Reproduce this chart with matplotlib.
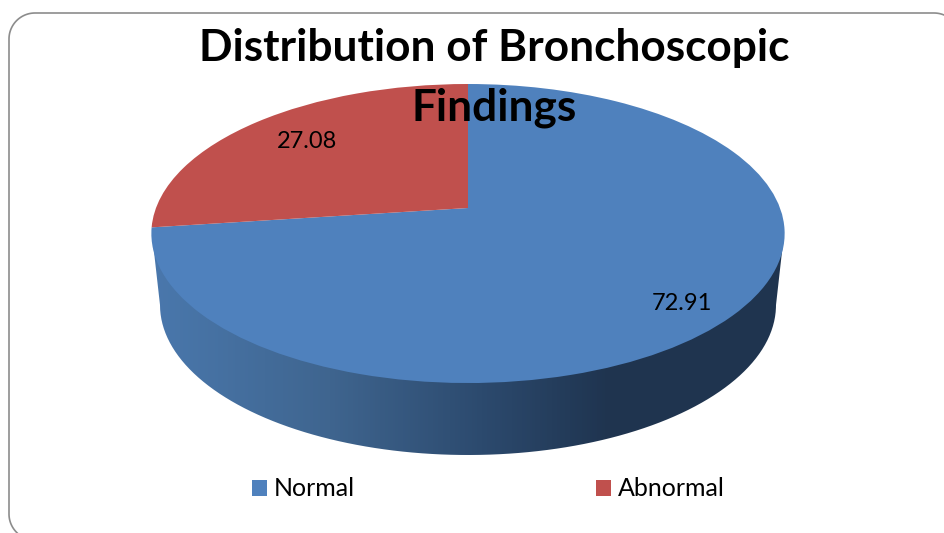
import numpy as np
import matplotlib
matplotlib.use('Agg')
from matplotlib import pyplot as plt
from matplotlib.colors import LinearSegmentedColormap
from matplotlib.patches import PathPatch
from matplotlib.path import Path
from matplotlib.transforms import Transform

categories = ['Normal', 'Abnormal']
values = [72.91, 27.08]
value_labels = ['72.91', '27.08']
colors = ['#4f81bd', '#c0504d']
side_stops = ['#4a78ad', '#3f658f', '#2c4a6e', '#1f344f', '#1f344f']

plt.rcParams['font.family'] = ['Lato', 'DejaVu Sans']


# the flat pie tilted away from the viewer, centre sits above the ellipse middle
class Tilt(Transform):
    input_dims = 2
    output_dims = 2

    def transform_non_affine(self, xy):
        xy = np.asarray(xy, dtype=float)
        w = 1 + 0.1706 * xy[:, 1]
        return np.column_stack([468 + 312 * xy[:, 0] / w,
                                (208 - 109.67 * xy[:, 1]) / w])


fig = plt.figure(figsize=(9.45, 5.33), dpi=100)
ax = fig.add_axes([0, 0, 1, 1])

wedges, _ = ax.pie(values, colors=colors, startangle=90, counterclock=False)
tilt = Tilt()
for w in wedges:
    w.set_transform(tilt + ax.transData)
    w.set_zorder(3)

# side wall with the dark gradient, clipped to the outline of the lower edge
t = np.linspace(np.pi, 0, 200)
side_x = np.concatenate([[152], 468 + 308 * np.cos(t), [784]])
side_y = np.concatenate([[234], 305 + 150 * np.sin(t), [234]])
side = PathPatch(Path(np.column_stack([side_x, side_y])), fc='none', ec='none', transform=ax.transData)
ax.add_patch(side)
cmap = LinearSegmentedColormap.from_list('side', list(zip([0, 0.28, 0.52, 0.72, 1], side_stops)))
img = ax.imshow(np.linspace(0, 1, 640).reshape(1, -1), cmap=cmap, aspect='auto',
                extent=[150, 790, 460, 230], zorder=2)
img.set_clip_path(side)

# rounded slide frame, runs off the picture at the bottom left and top right
r = 26
a1 = np.linspace(np.radians(133), np.radians(180), 20)
a2 = np.linspace(np.radians(180), np.radians(270), 30)
a3 = np.linspace(np.radians(270), np.radians(330), 20)
frame_x = np.concatenate([35 + r * np.cos(a1), 35 + r * np.cos(a2), 934 + r * np.cos(a3)])
frame_y = np.concatenate([514 + r * np.sin(a1), 39 + r * np.sin(a2), 39 + r * np.sin(a3)])
ax.plot(frame_x, frame_y, color='#8c8c8c', lw=1.2, zorder=1)

ax.text(494, 48, 'Distribution of Bronchoscopic', fontsize=31.8, fontweight='bold',
        ha='center', va='center', zorder=5)
ax.text(494, 108, 'Findings', fontsize=31.8, fontweight='bold', ha='center', va='center', zorder=5)
ax.text(682, 303, value_labels[0], fontsize=17, ha='center', va='center', zorder=5)
ax.text(307, 141, value_labels[1], fontsize=17, ha='center', va='center', zorder=5)

ax.legend(wedges, categories, ncol=2, frameon=False, fontsize=18, loc='center',
          bbox_to_anchor=(488.5, 489), bbox_transform=ax.transData,
          handlelength=0.62, handleheight=0.62, handletextpad=0.28, columnspacing=9.62)

ax.set_xlim(0, 945)
ax.set_ylim(533, 0)
ax.set_aspect('auto')
ax.axis('off')

fig.savefig('out.png', dpi=100, facecolor='white')
